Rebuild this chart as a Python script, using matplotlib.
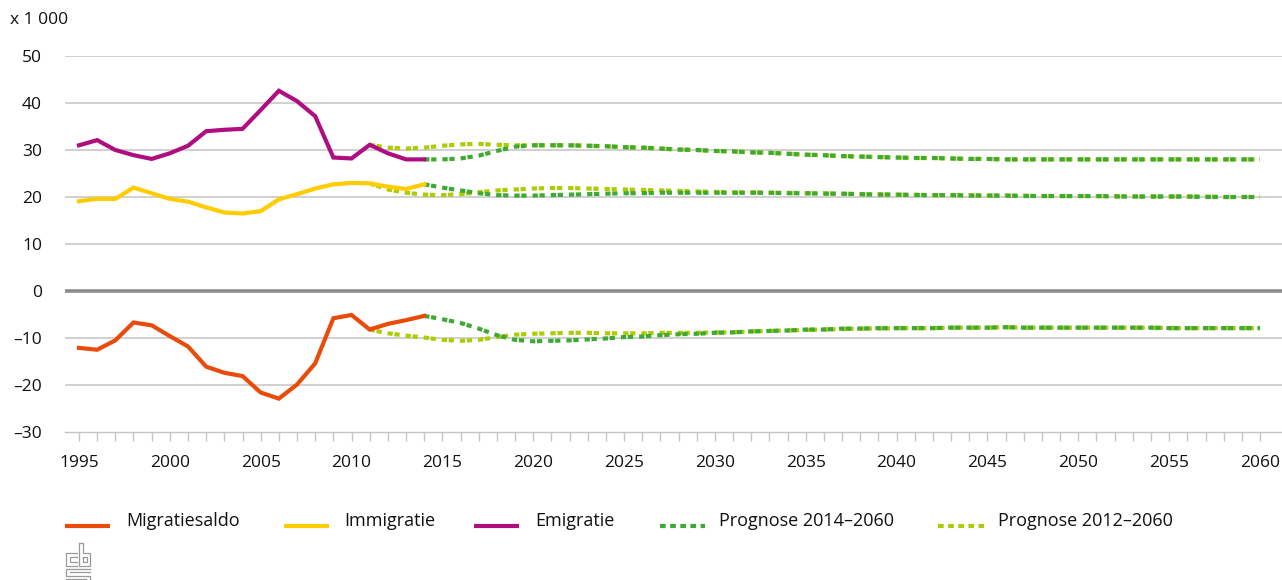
import matplotlib
matplotlib.use("Agg")
import matplotlib.pyplot as plt
from matplotlib.lines import Line2D

plt.rcParams['font.family'] = ['Open Sans', 'DejaVu Sans']
plt.rcParams['lines.scale_dashes'] = False

# ---------------- data (x 1 000) ----------------
years_hist = list(range(1995, 2015))
emigratie = [31.0, 32.1, 30.0, 28.9, 28.1, 29.3, 30.9, 34.0, 34.3, 34.5,
             38.5, 42.6, 40.4, 37.2, 28.4, 28.2, 31.1, 29.3, 28.0, 28.0]
immigratie = [19.1, 19.6, 19.6, 22.0, 20.8, 19.6, 19.0, 17.8, 16.7, 16.5,
              17.0, 19.5, 20.6, 21.8, 22.7, 23.0, 22.9, 22.2, 21.7, 22.7]
migratiesaldo = [-12.1, -12.5, -10.5, -6.7, -7.3, -9.6, -11.8, -16.1, -17.4, -18.1,
                 -21.6, -22.9, -19.9, -15.4, -5.8, -5.1, -8.2, -7.0, -6.2, -5.3]

years_p14 = list(range(2014, 2061))
emi_p14 = [28.0, 28.0, 28.2, 28.8, 29.8, 30.7, 31.0, 31.0, 31.0, 30.9,
           30.8, 30.6, 30.5, 30.3, 30.1, 30.0, 29.8, 29.7, 29.5, 29.4,
           29.2, 29.0, 28.9, 28.7, 28.6, 28.5, 28.4, 28.3, 28.3, 28.2,
           28.1, 28.1, 28.0, 28.0, 28.0, 28.0, 28.0, 28.0, 28.0, 28.0,
           28.0, 28.0, 28.0, 28.0, 28.0, 28.0, 28.0]
imm_p14 = [22.7, 22.0, 21.4, 20.8, 20.4, 20.3, 20.3, 20.4, 20.5, 20.6,
           20.7, 20.8, 20.8, 20.9, 20.9, 20.9, 20.9, 20.9, 20.9, 20.9,
           20.8, 20.8, 20.7, 20.7, 20.6, 20.5, 20.5, 20.4, 20.4, 20.4,
           20.3, 20.3, 20.3, 20.2, 20.2, 20.2, 20.2, 20.2, 20.1, 20.1,
           20.1, 20.1, 20.1, 20.0, 20.0, 20.0, 20.0]
saldo_p14 = [-5.3, -6.0, -6.8, -8.0, -9.4, -10.4, -10.7, -10.6, -10.5, -10.3,
             -10.1, -9.8, -9.7, -9.4, -9.2, -9.1, -8.9, -8.8, -8.6, -8.5,
             -8.4, -8.2, -8.2, -8.0, -8.0, -7.9, -7.9, -7.9, -7.9, -7.8,
             -7.8, -7.8, -7.7, -7.8, -7.8, -7.8, -7.8, -7.8, -7.8, -7.8,
             -7.8, -7.9, -7.9, -7.9, -7.9, -7.9, -7.9]

years_p12 = list(range(2011, 2061))
emi_p12 = [31.1, 30.5, 30.3, 30.5, 30.9, 31.2, 31.3, 31.1, 31.0, 31.0,
           31.0, 31.0, 30.9, 30.8, 30.6, 30.5, 30.3, 30.1, 30.0, 29.8,
           29.7, 29.5, 29.4, 29.2, 29.0, 28.9, 28.7, 28.6, 28.5, 28.4,
           28.3, 28.3, 28.2, 28.1, 28.1, 28.0, 28.0, 28.0, 28.0, 28.0,
           28.0, 28.0, 28.0, 28.0, 28.0, 28.0, 28.0, 28.0, 28.0, 28.0]
imm_p12 = [22.9, 21.6, 20.9, 20.5, 20.4, 20.6, 21.0, 21.4, 21.6, 21.8,
           21.9, 21.9, 21.8, 21.7, 21.6, 21.5, 21.4, 21.3, 21.2, 21.1,
           21.0, 21.0, 20.9, 20.9, 20.8, 20.8, 20.7, 20.6, 20.6, 20.5,
           20.5, 20.4, 20.4, 20.4, 20.3, 20.3, 20.3, 20.2, 20.2, 20.2,
           20.2, 20.2, 20.1, 20.1, 20.1, 20.1, 20.1, 20.0, 20.0, 20.0]
saldo_p12 = [-8.2, -9.0, -9.5, -9.9, -10.4, -10.6, -10.4, -9.8, -9.3, -9.1,
             -9.0, -8.9, -8.9, -9.0, -9.0, -9.0, -8.9, -8.9, -8.9, -8.8,
             -8.8, -8.6, -8.5, -8.4, -8.3, -8.2, -8.1, -8.0, -8.0, -7.9,
             -7.9, -7.9, -7.8, -7.8, -7.8, -7.7, -7.8, -7.8, -7.8, -7.8,
             -7.8, -7.8, -7.8, -7.8, -7.9, -7.9, -7.9, -7.9, -7.9, -7.9]

y_ticks = [-30, -20, -10, 0, 10, 20, 30, 40, 50]
y_ticklabels = ['–30', '–20', '–10', '0', '10', '20', '30', '40', '50']
x_labels = list(range(1995, 2061, 5))

legend_labels = ['Migratiesaldo', 'Immigratie', 'Emigratie',
                 'Prognose 2014–2060', 'Prognose 2012–2060']

# ---------------- style ----------------
C_SALDO = '#e94c0a'
C_IMM = '#ffcc00'
C_EMI = '#af0e80'
C_P14 = '#3eaa34'
C_P12 = '#afcb05'
GRID = '#c4c4c4'
ZERO = '#8c8c8c'
TXT = '#111111'

W, H = 1282, 580
fig = plt.figure(figsize=(W / 100, H / 100), dpi=100)

def fx(px):
    return px / W

def fy(py):
    return 1 - py / H

ax = fig.add_axes([fx(65), fy(432), fx(1282) - fx(65), fy(56) - fy(432)])
ax.set_xlim(1994.23, 2061.21)
ax.set_ylim(-30, 50)

for s in ['top', 'right', 'left']:
    ax.spines[s].set_visible(False)
ax.spines['bottom'].set_color(GRID)
ax.spines['bottom'].set_linewidth(1.0)

ax.set_yticks(y_ticks)
ax.set_yticklabels(y_ticklabels)
ax.tick_params(axis='y', length=0, pad=16.5, labelsize=12.5, labelcolor=TXT)
ax.set_xticks(list(range(1995, 2061)))
ax.set_xticklabels([str(y) if y in x_labels else '' for y in range(1995, 2061)])
ax.tick_params(axis='x', length=6.5, width=1.0, color=GRID, pad=10,
               labelsize=12.5, labelcolor=TXT)

for v in y_ticks:
    if v == 0:
        ax.axhline(v, color=ZERO, lw=2.6, zorder=1)
    elif v != -30:
        ax.axhline(v, color=GRID, lw=1.1, zorder=1)

dash_chart = (0, (3.8, 1.2, 3.8, 4.3))
kw_d = dict(lw=3.0, dash_capstyle='butt', solid_capstyle='butt', zorder=3)
for yv in (emi_p12, imm_p12, saldo_p12):
    ax.plot(years_p12, yv, color=C_P12, linestyle=dash_chart, **kw_d)
for yv in (emi_p14, imm_p14, saldo_p14):
    ax.plot(years_p14, yv, color=C_P14, linestyle=dash_chart, **kw_d)

kw_s = dict(lw=3.0, solid_joinstyle='miter', zorder=4)
ax.plot(years_hist, emigratie, color=C_EMI, **kw_s)
ax.plot(years_hist, immigratie, color=C_IMM, **kw_s)
ax.plot(years_hist, migratiesaldo, color=C_SALDO, **kw_s)

fig.text(fx(10), fy(20), 'x 1 000', fontsize=12.5, color=TXT, va='center', ha='left')

# ---------------- legend (manual) ----------------
leg_items = [
    (65, 110, C_SALDO, '-', 126),
    (284, 329, C_IMM, '-', 344),
    (474, 519, C_EMI, '-', 535),
    (660, 705, C_P14, ':', 719),
    (938, 984, C_P12, ':', 998),
]
for (x0, x1, col, ls, tx), lab in zip(leg_items, legend_labels):
    if ls == '-':
        ln = Line2D([fx(x0), fx(x1)], [fy(526), fy(526)], color=col, lw=3.0,
                    solid_capstyle='butt', transform=fig.transFigure)
    else:
        ln = Line2D([fx(x0), fx(x1)], [fy(526), fy(526)], color=col, lw=3.0,
                    linestyle=(0, (4.1, 3.2)), dash_capstyle='butt',
                    transform=fig.transFigure)
    fig.add_artist(ln)
    fig.text(fx(tx), fy(521), lab, fontsize=13, color=TXT, va='center', ha='left')

# ---------------- cbs logo (simple outline) ----------------
LOGO = '#9a9a9a'
logo_paths = [
    [(77, 553), (66, 553), (66, 566), (77, 566)],
    [(77, 557), (70, 557), (70, 562), (77, 562)],
    [(79, 543), (79, 566), (90, 566), (90, 553), (83, 553), (83, 543), (79, 543)],
    [(83, 557), (87, 557), (87, 562), (83, 562), (83, 557)],
    [(90, 569), (66, 569), (66, 576), (90, 576), (90, 581)],
    [(90, 572), (70, 572)],
    [(66, 579), (86, 579)],
]
for path in logo_paths:
    xs = [fx(p[0]) for p in path]
    ys = [fy(p[1]) for p in path]
    fig.add_artist(Line2D(xs, ys, color=LOGO, lw=0.9, transform=fig.transFigure))

fig.savefig('out.png', dpi=100)
